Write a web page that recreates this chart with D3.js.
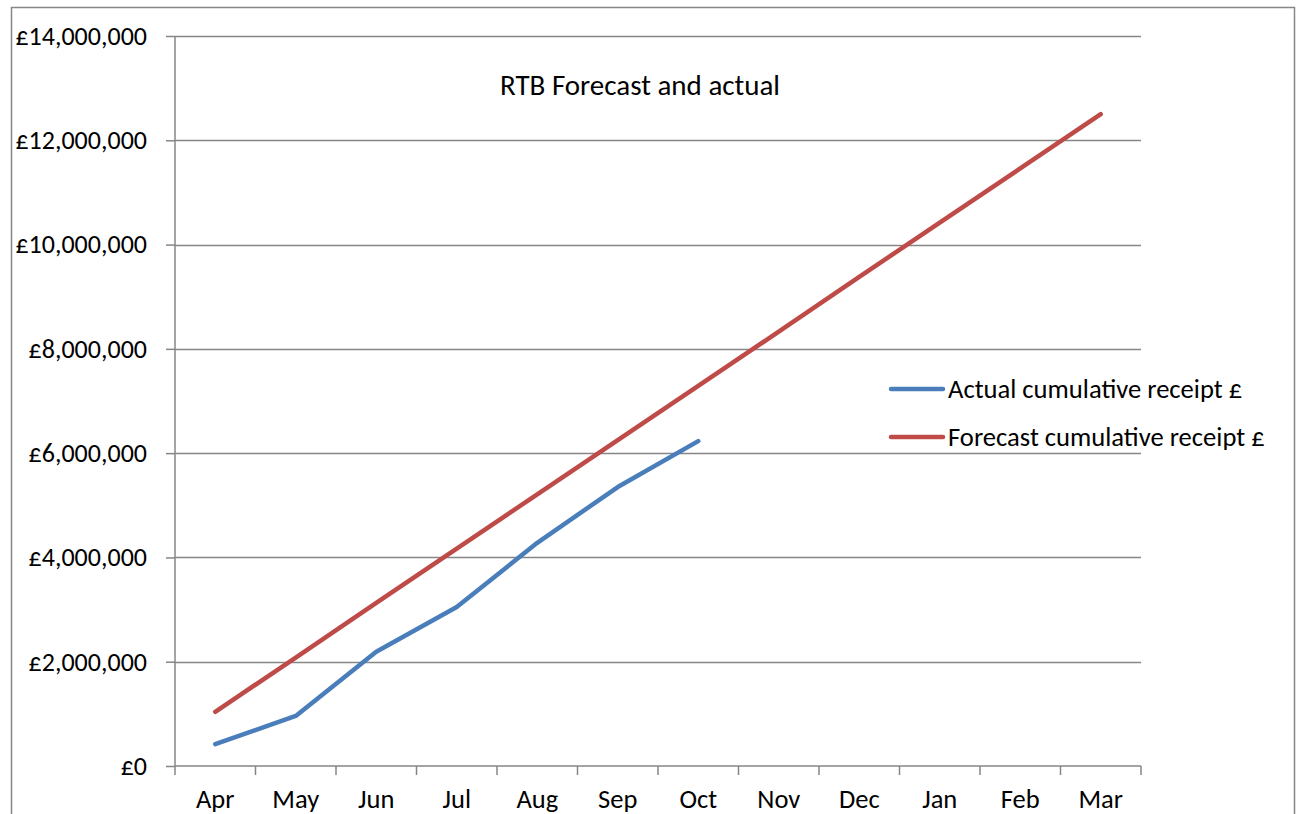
<!DOCTYPE html>
<html><head><meta charset="utf-8">
<script src="https://cdn.jsdelivr.net/npm/d3@7"></script>
<style>html,body{margin:0;padding:0;background:#fff;}svg{display:block;}</style>
</head><body>
<svg id="c" width="1300" height="814"></svg>
<script>
const months = ["Apr","May","Jun","Jul","Aug","Sep","Oct","Nov","Dec","Jan","Feb","Mar"];
const actual = [420000, 960000, 2190000, 3050000, 4280000, 5350000, 6230000];
const forecast = [1040000, 2080000, 3130000, 4170000, 5210000, 6250000, 7290000, 8330000, 9380000, 10420000, 11460000, 12500000];
const yTicks = [0, 2000000, 4000000, 6000000, 8000000, 10000000, 12000000, 14000000];
const seriesNames = ["Actual cumulative receipt £", "Forecast cumulative receipt £"];
const colors = ["#4a7ebb", "#be4b48"];

const svg = d3.select("#c");
const font = "Carlito, Calibri, 'Open Sans', sans-serif";
const L = 175, R = 1141, T = 36, B = 766;
const grey = "#868686";

svg.append("rect").attr("x", 11.5).attr("y", 7.5).attr("width", 1283).attr("height", 820)
  .attr("fill", "#fff").attr("stroke", grey).attr("stroke-width", 1.5);

const x = d3.scaleBand().domain(months).range([L, R]);
const y = d3.scaleLinear().domain([0, 14000000]).range([B, T]);

// gridlines
svg.append("g").selectAll("line").data(yTicks.filter(d => d > 0)).join("line")
  .attr("x1", L).attr("x2", R).attr("y1", d => Math.round(y(d)) + 0.5).attr("y2", d => Math.round(y(d)) + 0.5)
  .attr("stroke", grey).attr("stroke-width", 1.5);

// y axis
const fmt = d => "£" + d3.format(",")(d);
const ya = svg.append("g").attr("transform", `translate(${L},0)`)
  .call(d3.axisLeft(y).tickValues(yTicks).tickFormat(fmt).tickSize(9).tickPadding(19));
ya.select(".domain").attr("stroke", grey).attr("stroke-width", 1.5).attr("d", `M0,${T}V${B}`);
ya.selectAll(".tick line").attr("stroke", grey).attr("stroke-width", 1.5);
ya.selectAll("text").attr("font-family", font).attr("font-size", 26).attr("fill", "#000");

// x axis
const xa = svg.append("g").attr("transform", `translate(0,${B})`)
  .call(d3.axisBottom(x).tickSize(0).tickPadding(24));
xa.select(".domain").attr("stroke", grey).attr("stroke-width", 1.5).attr("d", `M${L},0H${R}`);
xa.selectAll("text").attr("font-family", font).attr("font-size", 26.5).attr("fill", "#000")
  .attr("y", 42).attr("dy", 0);
const bounds = months.map(m => x(m)).concat([R]);
xa.selectAll(".bt").data(bounds).join("line").attr("class", "bt")
  .attr("x1", d => d).attr("x2", d => d).attr("y1", 0).attr("y2", 9)
  .attr("stroke", grey).attr("stroke-width", 1.5);

const cx = i => x(months[i]) + x.bandwidth() / 2;
const line = d3.line().x((d, i) => cx(i)).y(d => y(d));
[actual, forecast].forEach((s, k) => {
  svg.append("path").datum(s).attr("d", line).attr("fill", "none")
    .attr("stroke", colors[k]).attr("stroke-width", 4.5)
    .attr("stroke-linecap", "round").attr("stroke-linejoin", "round");
});

// title
svg.append("text").attr("x", 640).attr("y", 95).attr("text-anchor", "middle")
  .attr("font-family", font).attr("font-size", 29).text("RTB Forecast and actual");

// legend
const lg = svg.append("g");
seriesNames.forEach((n, k) => {
  const yy = 389 + k * 48;
  lg.append("line").attr("x1", 891).attr("x2", 943).attr("y1", yy).attr("y2", yy)
    .attr("stroke", colors[k]).attr("stroke-width", 4.5).attr("stroke-linecap", "round");
  lg.append("text").attr("x", 948).attr("y", yy + 9).attr("font-family", font)
    .attr("font-size", 26.6).text(n);
});
</script>
</body></html>
